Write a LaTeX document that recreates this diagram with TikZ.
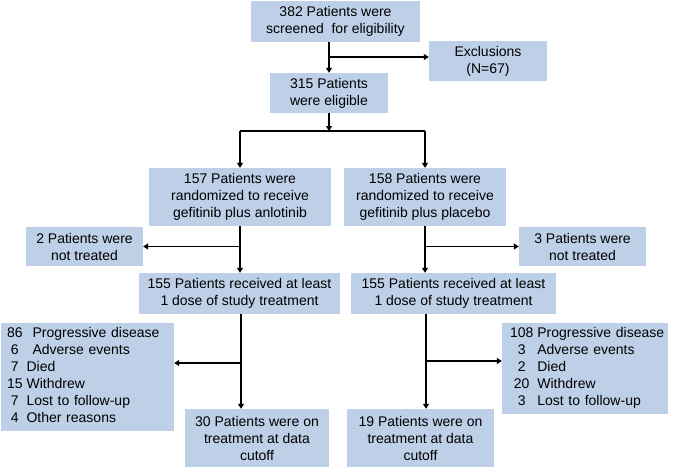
\documentclass[tikz,border=0pt]{standalone}
\usepackage{fontspec}
\setmainfont{Liberation Sans}
\usetikzlibrary{arrows.meta}
\definecolor{boxblue}{RGB}{189,208,231}

\begin{document}
\begin{tikzpicture}[
  x=1pt, y=-1pt,
  box/.style={
    fill=boxblue, align=center, inner sep=0pt,
    font=\fontsize{14}{17}\selectfont
  },
  lst/.style={
    fill=boxblue, align=left, inner ysep=0pt,
    font=\fontsize{14}{17}\selectfont
  },
  ln/.style={line width=1.1pt},
  arr/.style={ln, -{Triangle[length=5pt,width=6pt]}}
]
  \useasboundingbox (0,0) rectangle (675,469);
  % screening
  \node[box, minimum width=169pt, minimum height=41pt] (scr) at (335.5,21.5)
    {382 Patients were\\screened \ for eligibility};
  \node[box, minimum width=118pt, minimum height=40pt] (excl) at (488,61)
    {Exclusions\\(N=67)};
  \node[box, minimum width=118pt, minimum height=40pt] (elig) at (329,93)
    {315 Patients\\were eligible};
  % randomization
  \node[box, minimum width=182pt, minimum height=58pt] (armA) at (240,197)
    {157 Patients were\\randomized to receive\\gefitinib plus anlotinib};
  \node[box, minimum width=162pt, minimum height=58pt] (armB) at (425,197)
    {158 Patients were\\randomized to receive\\gefitinib plus placebo};
  \node[box, minimum width=117pt, minimum height=39pt] (skipA) at (84.5,246.5)
    {2 Patients were\\not treated};
  \node[box, minimum width=127pt, minimum height=39pt] (skipB) at (582.5,246.5)
    {3 Patients were\\not treated};
  \node[box, minimum width=201pt, minimum height=41pt] (doseA) at (239.5,293.5)
    {155 Patients received at least\\1 dose of study treatment};
  \node[box, minimum width=205pt, minimum height=41pt] (doseB) at (453.5,293.5)
    {155 Patients received at least\\1 dose of study treatment};
  % discontinuation
  \node[lst, text width=161pt, inner xsep=6pt, minimum height=108pt] (offA) at (87.5,377)
    {\begin{tabular}{@{}c@{\hspace{4pt}}l@{}}
      86 & \hspace{6pt}Progressive disease\\
      6 & \hspace{6pt}Adverse events\\
      7 & Died\\
      15 & Withdrew\\
      7 & Lost to follow-up\\
      4 & Other reasons
    \end{tabular}};
  \node[lst, text width=150pt, inner xsep=8pt, minimum height=91pt] (offB) at (585,368.5)
    {\begin{tabular}{@{}c@{\hspace{4pt}}l@{}}
      108 & Progressive disease\\
      3 & Adverse events\\
      2 & Died\\
      20 & Withdrew\\
      3 & Lost to follow-up
    \end{tabular}};
  \node[box, minimum width=144pt, minimum height=58pt] (onA) at (257,438)
    {30 Patients were on\\treatment at data\\cutoff};
  \node[box, minimum width=147pt, minimum height=58pt] (onB) at (420.5,438)
    {19 Patients were on\\treatment at data\\cutoff};

  % connectors
  \coordinate (ex) at (329,57);
  \coordinate (split) at (329,131);
  \coordinate (brA) at (241,363);
  \coordinate (dnB) at (426,314);
  \coordinate (brB) at (426,361);
  \draw[arr] (scr.south -| elig.north) -- (elig.north);
  \draw[arr] (ex) -- (ex -| excl.west);
  \draw[arr] (elig.south) -- (split);
  \draw[ln] (split -| armA.north) -- (split -| armB.north);
  \draw[arr] (split -| armA.north) -- (armA.north);
  \draw[arr] (split -| armB.north) -- (armB.north);
  \draw[arr] (armA.south) -- (armA.south |- doseA.north);
  \draw[arr] (armA.south |- skipA.east) -- (skipA.east);
  \draw[arr] (armB.south) -- (armB.south |- doseB.north);
  \draw[arr] (armB.south |- skipB.west) -- (skipB.west);
  \draw[arr] (doseA.south -| brA) -- (brA |- onA.north);
  \draw[arr] (brA) -- (brA -| offA.east);
  \draw[arr] (dnB) -- (dnB |- onB.north);
  \draw[arr] (brB) -- (brB -| offB.west);
\end{tikzpicture}
\end{document}
